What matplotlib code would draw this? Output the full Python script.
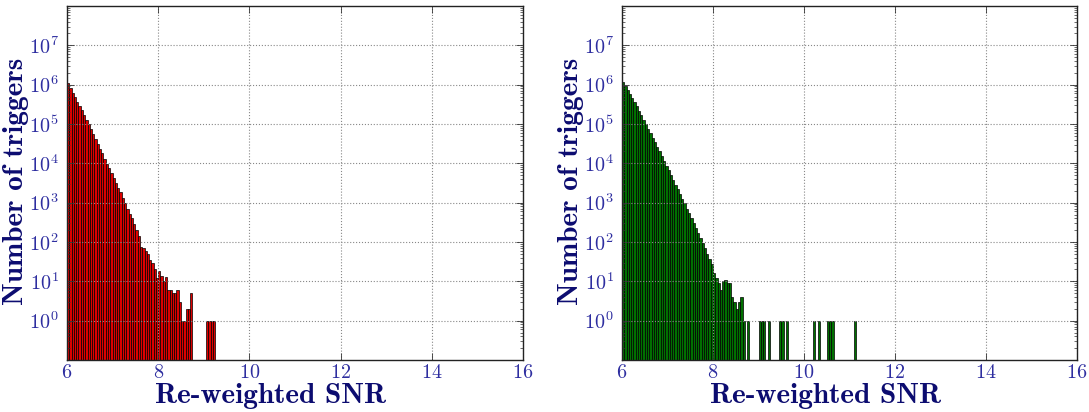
import numpy as np
import matplotlib
matplotlib.use('Agg')
import matplotlib.pyplot as plt
from matplotlib.ticker import FixedLocator, FuncFormatter, LogLocator, NullFormatter

plt.rcParams['mathtext.fontset'] = 'cm'

# ---------------- data ----------------
bin_start = 6.0
bin_width = 0.05

counts_left = [
    1096000, 812800, 631000, 489800, 371500, 281800, 223900, 166000, 128800, 97700,
    74100, 55000, 41700, 31600, 23400, 17800, 13200, 9770, 7410, 5620,
    4170, 3160, 2400, 1820, 1318, 977, 692, 501, 398, 288,
    200, 145, 76, 69, 58, 50, 34, 29, 20, 12,
    18, 14, 10, 13, 6, 6, 5, 5, 6, 3,
    1, 1, 2, 2, 5, 0, 0, 0, 0, 0,
    0, 1, 1, 1, 1,
]

counts_right = [
    1175000, 933000, 741000, 589000, 457000, 363000, 282000, 219000, 166000, 129000,
    100000, 75900, 58900, 44700, 34700, 26300, 20000, 15100, 11500, 8710,
    6610, 5010, 3800, 2880, 2240, 1700, 1260, 955, 708, 537,
    407, 302, 229, 174, 129, 95, 69, 51, 38, 27,
    16, 12, 9, 6, 10, 11, 9, 9, 4, 3,
    2, 3, 4, 1, 0, 1, 0, 0, 0, 0,
    1, 1, 1, 0, 1, 0, 0, 0, 0, 1,
    1, 0, 1, 0, 0, 0, 0, 0, 0, 0,
    0, 0, 0, 0, 1, 0, 1, 0, 0, 0,
    1, 1, 1, 0, 0, 0, 0, 0, 0, 0,
    0, 0, 1,
]

x_ticks = [6, 8, 10, 12, 14, 16]
y_ticks = [1e0, 1e1, 1e2, 1e3, 1e4, 1e5, 1e6, 1e7]
x_label = 'Re-weighted SNR'
y_label = 'Number of triggers'

# ---------------- style ----------------
tick_color = '#2e2ea0'
label_color = '#0c0c70'
W, H = 1089, 412

fig = plt.figure(figsize=(W / 100, H / 100), dpi=100)
axL = fig.add_axes([67 / W, 52 / H, 456 / W, 354 / H])
axR = fig.add_axes([622 / W, 52 / H, 455 / W, 354 / H])

for ax, counts, color, x0 in [(axL, counts_left, '#dd0000', 67),
                              (axR, counts_right, '#007000', 622)]:
    edges = bin_start + bin_width * np.arange(len(counts) + 1)
    ax.hist(edges[:-1], bins=edges, weights=counts, color=color,
            edgecolor='black', linewidth=0.5, log=True)
    ax.set_xlim(6, 16)
    ax.set_ylim(0.1, 1e8)
    ax.xaxis.set_major_locator(FixedLocator(x_ticks))
    ax.xaxis.set_major_formatter(FuncFormatter(lambda v, p: r'$%d$' % v))
    ax.yaxis.set_major_locator(FixedLocator(y_ticks))
    ax.yaxis.set_major_formatter(FuncFormatter(lambda v, p: r'$10^{%d}$' % round(np.log10(v))))
    ax.yaxis.set_minor_locator(LogLocator(base=10, subs=np.arange(2, 10), numticks=20))
    ax.yaxis.set_minor_formatter(NullFormatter())
    ax.tick_params(which='both', direction='in', top=True, right=True,
                   labelcolor=tick_color, labelsize=14.5, color='#333333')
    ax.tick_params(which='major', length=5, width=0.6)
    ax.tick_params(axis='x', which='major', pad=2)
    ax.tick_params(axis='y', which='major', pad=6)
    ax.tick_params(which='minor', length=2.5, width=0.5)
    ax.grid(True, which='major', linestyle=':', color='#888888', linewidth=0.8)
    for s in ax.spines.values():
        s.set_linewidth(1.0)
        s.set_color('#222222')
    fig.text((x0 + 204) / W, 1 - 403 / H, x_label, fontfamily='cmb10', fontsize=21,
             color=label_color, ha='center', va='baseline')
    fig.text((x0 - 51) / W, 1 - 181 / H, y_label, fontfamily='cmb10', fontsize=21,
             color=label_color, ha='center', va='center', rotation=90)

fig.savefig('out.png', dpi=100)
